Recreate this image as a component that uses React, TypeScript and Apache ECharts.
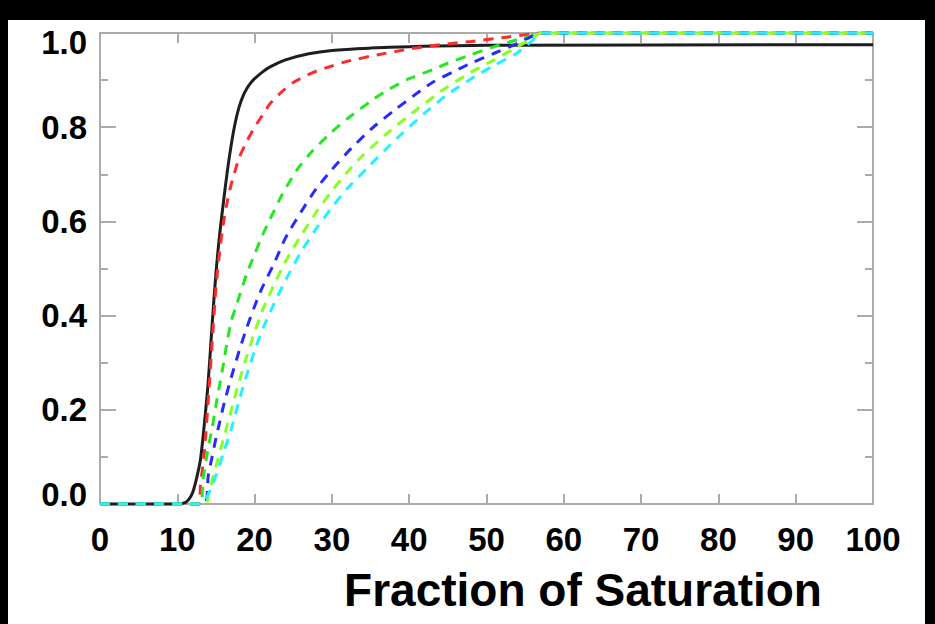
import React, { useEffect, useRef } from "react";
import * as echarts from "echarts";

const xTickValues = [0, 10, 20, 30, 40, 50, 60, 70, 80, 90, 100];
const yTickValues = [0, 0.2, 0.4, 0.6, 0.8, 1.0];
const xTitle = "Fraction of Saturation";

const blackX = [0, 10, 11, 11.5, 12, 12.5, 13, 13.5, 14, 14.5, 15, 15.5, 16, 16.5, 17, 17.5, 18, 18.5, 19, 19.5, 20, 21, 22, 24, 27, 30, 35, 40, 50, 100];
const blackY = [0, 0, 0.003, 0.01, 0.025, 0.055, 0.095, 0.17, 0.26, 0.38, 0.49, 0.575, 0.645, 0.71, 0.765, 0.81, 0.843, 0.866, 0.882, 0.894, 0.903, 0.917, 0.928, 0.943, 0.956, 0.963, 0.968, 0.971, 0.974, 0.975];

const redX = [0, 12.7, 13, 13.5, 14, 14.5, 15, 15.5, 16, 16.5, 17, 18, 19, 20, 21, 22, 23.5, 25, 27.5, 30, 32, 36, 40, 44, 48, 52, 55, 57, 100];
const redY = [0, 0, 0.04, 0.11, 0.22, 0.34, 0.46, 0.54, 0.6, 0.645, 0.68, 0.735, 0.77, 0.8, 0.825, 0.85, 0.875, 0.895, 0.916, 0.93, 0.94, 0.954, 0.966, 0.975, 0.982, 0.99, 0.996, 1, 1];

const greenX = [0, 13, 13.3, 14, 14.5, 15, 15.5, 16, 16.5, 17, 17.5, 18, 19, 20, 21, 22, 23.5, 25.5, 27.5, 30, 32, 35, 37, 40, 43, 45, 48, 51, 54, 56, 57, 100];
const greenY = [0, 0, 0.05, 0.12, 0.16, 0.21, 0.255, 0.3, 0.35, 0.39, 0.415, 0.44, 0.49, 0.53, 0.57, 0.605, 0.655, 0.71, 0.75, 0.79, 0.818, 0.855, 0.877, 0.903, 0.922, 0.936, 0.954, 0.971, 0.986, 0.995, 1, 1];

const blueX = [0, 13.5, 14, 14.5, 15, 15.5, 16, 17, 18, 19, 20, 21, 22.5, 24, 26, 28, 30, 32.5, 35, 38, 41, 43, 46, 48, 51, 54, 56, 57, 100];
const blueY = [0, 0, 0.06, 0.1, 0.14, 0.175, 0.21, 0.27, 0.325, 0.375, 0.42, 0.46, 0.51, 0.565, 0.62, 0.67, 0.71, 0.755, 0.795, 0.835, 0.872, 0.895, 0.92, 0.936, 0.957, 0.978, 0.994, 1, 1];

const limeX = [0, 13.7, 14, 15, 16, 17, 18, 19, 20, 21, 22.5, 24, 26, 28, 30, 32, 34, 37, 40, 44, 47.7, 51, 53.3, 56, 57, 100];
const limeY = [0, 0, 0.02, 0.08, 0.14, 0.2, 0.26, 0.315, 0.365, 0.41, 0.465, 0.515, 0.57, 0.62, 0.665, 0.705, 0.74, 0.785, 0.825, 0.875, 0.914, 0.943, 0.964, 0.99, 1, 1];

const cyanX = [0, 13, 14, 15, 16, 17, 18, 19, 20, 21, 22.5, 24, 26, 28, 30, 32, 34.5, 38, 42, 45, 48.6, 51.2, 53.8, 56, 57, 100];
const cyanY = [0, 0, 0.02, 0.06, 0.11, 0.16, 0.22, 0.275, 0.325, 0.37, 0.425, 0.475, 0.535, 0.585, 0.63, 0.67, 0.712, 0.77, 0.83, 0.87, 0.909, 0.933, 0.956, 0.985, 1, 1];

const zip = (xs: number[], ys: number[]) => xs.map((x, i) => [x, ys[i]]);

const FONT = "'Liberation Sans', Arial, Helvetica, sans-serif";
const AXIS_COLOR = "#ababab";

export default function App() {
  const ref = useRef<HTMLDivElement>(null);
  useEffect(() => {
    if (!ref.current) return;
    const chart = echarts.init(ref.current, undefined, { renderer: "svg" });
    const labelBase = { fontFamily: FONT, fontWeight: "bold" as const, fontSize: 33, color: "#000" };
    const axisLineStyle = { color: AXIS_COLOR, width: 2 };
    const dashed = (name: string, color: string, xs: number[], ys: number[]) => ({
      name,
      type: "line",
      data: zip(xs, ys),
      showSymbol: false,
      symbol: "none",
      clip: false,
      smooth: 0.2,
      lineStyle: { color, width: 3, type: [10, 8] },
      z: 3,
    });
    chart.setOption({
      animation: false,
      backgroundColor: "#fff",
      grid: { left: 100, right: 62, top: 33, bottom: 120, containLabel: false },
      xAxis: [
        {
          type: "value",
          min: 0,
          max: 100,
          interval: 10,
          position: "bottom",
          axisLine: { show: true, onZero: false, lineStyle: axisLineStyle },
          axisTick: { show: true, inside: true, length: 10, lineStyle: axisLineStyle },
          splitLine: { show: false },
          axisLabel: {
            ...labelBase,
            margin: 19,
            showMinLabel: true,
            showMaxLabel: true,
            formatter: (v: number) => (xTickValues.includes(v) ? String(v) : ""),
          },
        },
        {
          type: "value",
          min: 0,
          max: 100,
          interval: 10,
          position: "top",
          axisLine: { show: true, onZero: false, lineStyle: axisLineStyle },
          axisTick: { show: true, inside: true, length: 10, lineStyle: axisLineStyle },
          splitLine: { show: false },
          axisLabel: { show: false },
        },
      ],
      yAxis: [
        {
          type: "value",
          min: 0,
          max: 1,
          interval: 0.2,
          position: "left",
          axisLine: { show: true, onZero: false, lineStyle: axisLineStyle },
          axisTick: { show: true, inside: true, length: 16, lineStyle: axisLineStyle },
          minorTick: { show: true, splitNumber: 2, length: 8, lineStyle: axisLineStyle },
          splitLine: { show: false },
          axisLabel: {
            ...labelBase,
            margin: 13,
            showMinLabel: true,
            showMaxLabel: true,
            formatter: (v: number) => {
              const t = v.toFixed(1);
              if (Math.abs(v) < 1e-9) return `{lo|${t}}`;
              if (Math.abs(v - 1) < 1e-9) return `{hi|${t}}`;
              return yTickValues.some((y) => Math.abs(y - v) < 1e-9) ? `{n|${t}}` : "";
            },
            rich: {
              n: { ...labelBase },
              lo: { ...labelBase, padding: [0, 0, 20, 0] },
              hi: { ...labelBase, padding: [18, 0, 0, 0] },
            },
          },
        },
        {
          type: "value",
          min: 0,
          max: 1,
          interval: 0.2,
          position: "right",
          axisLine: { show: true, onZero: false, lineStyle: axisLineStyle },
          axisTick: { show: true, inside: true, length: 16, lineStyle: axisLineStyle },
          minorTick: { show: true, splitNumber: 2, length: 8, lineStyle: axisLineStyle },
          splitLine: { show: false },
          axisLabel: { show: false },
        },
      ],
      series: [
        {
          name: "black",
          type: "line",
          data: zip(blackX, blackY),
          showSymbol: false,
          symbol: "none",
          clip: false,
          smooth: 0.3,
          lineStyle: { color: "#1e1e1e", width: 3 },
          z: 2,
        },
        dashed("red", "#ff2a2a", redX, redY),
        dashed("green", "#22e822", greenX, greenY),
        dashed("blue", "#2a2aff", blueX, blueY),
        dashed("lime", "#88ff22", limeX, limeY),
        dashed("cyan", "#22f2ff", cyanX, cyanY),
      ],
      graphic: [
        { type: "rect", left: 0, top: 0, shape: { width: 935, height: 20 }, style: { fill: "#000" }, z: 100 },
        { type: "rect", left: 0, top: 0, shape: { width: 8, height: 624 }, style: { fill: "#000" }, z: 100 },
        { type: "rect", left: 925, top: 0, shape: { width: 10, height: 624 }, style: { fill: "#000" }, z: 100 },
        {
          type: "text",
          x: 583,
          y: 590,
          style: {
            text: xTitle,
            fontFamily: FONT,
            fontWeight: "bold",
            fontSize: 46,
            fill: "#000",
            align: "center",
            verticalAlign: "middle",
          },
        },
      ],
    });
    return () => chart.dispose();
  }, []);
  return (
    <div
      ref={ref}
      style={{ position: "fixed", left: 0, top: 0, width: 935, height: 624, background: "#fff" }}
    />
  );
}
